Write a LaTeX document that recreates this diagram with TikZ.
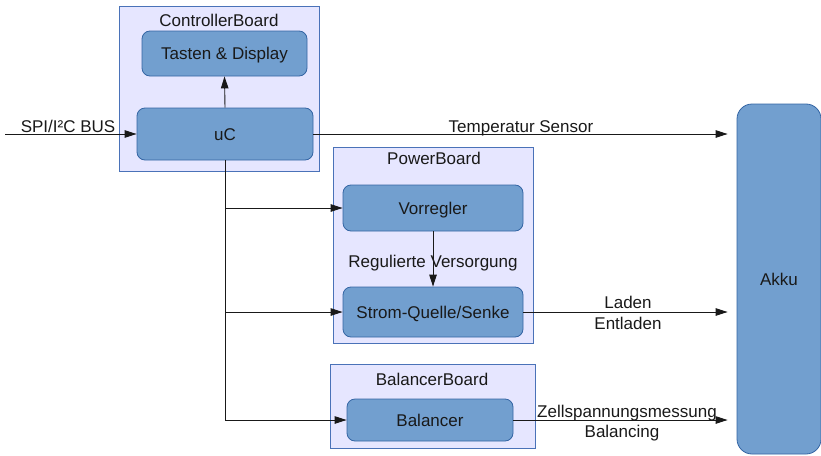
\documentclass[tikz,border=0pt]{standalone}
\usepackage{fontspec}
\setmainfont{Liberation Sans}
\usetikzlibrary{arrows.meta}
\definecolor{boardfill}{HTML}{E6E6FF}
\definecolor{boardline}{HTML}{4A72B8}
\definecolor{blockfill}{HTML}{729FCF}
\definecolor{blockline}{HTML}{3465A4}
\tikzset{
  board/.style={draw=boardline, fill=boardfill, line width=1pt, inner sep=0pt, anchor=center},
  block/.style={draw=blockline, fill=blockfill, line width=0.8pt, rounded corners=8pt, inner sep=0pt, anchor=center, text=black!90, text height=12.2pt, text depth=0pt},
  title/.style={inner sep=0pt, anchor=center, text=black!90, text height=12.2pt, text depth=0pt},
  lbl/.style={inner sep=0pt, anchor=center, text=black!90, align=center, text height=12.2pt, text depth=0pt},
  conn/.style={line width=0.9pt, draw=black!90},
  arr/.style={conn, -{Triangle[length=12pt,width=7.5pt]}},
}
\begin{document}
\begin{tikzpicture}[x=1pt, y=-1pt, font=\fontsize{17}{21}\selectfont]
\useasboundingbox (0,0) rectangle (821,455);

% boards
\node[board, minimum width=200pt, minimum height=165pt] (ctrlboard) at (219,88.5) {};
\node[board, minimum width=200pt, minimum height=196pt] (powerboard) at (433,245) {};
\node[board, minimum width=205pt, minimum height=84pt] (balboard) at (432.5,406) {};
\node[title] (ctrltitle) at (219,20) {ControllerBoard};
\node[title] (powertitle) at (434,158) {PowerBoard};
\node[title] (baltitle) at (432,379.5) {BalancerBoard};

% blocks
\node[block, minimum width=165pt, minimum height=45pt] (tasten) at (224.5,53.5) {Tasten \& Display};
\node[block, minimum width=176pt, minimum height=52pt] (uc) at (225,134) {uC};
\node[block, minimum width=180pt, minimum height=46pt] (vorregler) at (433,208) {Vorregler};
\node[block, minimum width=180pt, minimum height=50pt] (strom) at (433,312) {Strom-Quelle/Senke};
\node[block, minimum width=166pt, minimum height=42pt] (balancer) at (430,420) {Balancer};
\node[block, rounded corners=15pt, minimum width=84pt, minimum height=350pt, text height=12.2pt] (akku) at (779,279) {Akku};

% bus input
\coordinate (busin) at (5,134);
\draw[arr] (busin) -- (uc.west);
\node[lbl] (buslbl) at (68,126) {SPI/I²C BUS};

% controller internal
\draw[arr] (uc.north) -- (tasten.south);

% distribution from uC
\coordinate (vtap) at (uc.south |- vorregler.west);
\coordinate (stap) at (uc.south |- strom.west);
\coordinate (btap) at (uc.south |- balancer.west);
\draw[conn] (uc.south) -- (btap);
\draw[arr] (vtap) -- (vorregler.west);
\draw[arr] (stap) -- (strom.west);
\draw[arr] (btap) -- (balancer.west);

% power board internal
\draw[arr] (vorregler.south) -- (strom.north);
\node[lbl] (reglbl) at (433,261) {Regulierte Versorgung};

% links to the battery
\draw[arr, shorten >=9pt] (uc.east) -- (uc.east -| akku.west);
\node[lbl] (templbl) at (521,126) {Temperatur Sensor};
\draw[arr, shorten >=9pt] (strom.east) -- (strom.east -| akku.west);
\node[lbl] (ladenlbl) at (628,302) {Laden};
\node[lbl] (entladenlbl) at (628,323) {Entladen};
\draw[arr, shorten >=9pt] (balancer.east) -- (balancer.east -| akku.west);
\node[lbl] (zelllbl) at (627,411.5) {Zellspannungsmessung};
\node[lbl] (ballbl) at (622,431.5) {Balancing};
\end{tikzpicture}
\end{document}
